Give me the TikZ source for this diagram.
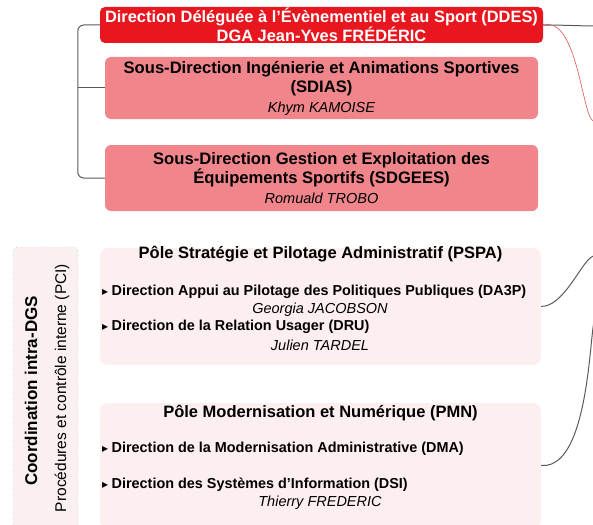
\documentclass[tikz,border=0pt]{standalone}
\usepackage{fontspec}
\setmainfont{Liberation Sans}
\newfontfamily\symfont{DejaVu Sans}
\definecolor{ddesred}{HTML}{E8171F}
\definecolor{sdpink}{HTML}{F0868B}
\definecolor{polepink}{HTML}{FDEEF0}
\definecolor{pcipink}{HTML}{FBF0F1}
\definecolor{linegrey}{HTML}{5A5A5A}
\definecolor{curvered}{HTML}{E06666}
\newcommand{\tribullet}{{\symfont\fontsize{12}{12}\selectfont ▸}\hspace{3.5pt}}
\begin{document}
\begin{tikzpicture}[x=1pt,y=-1pt,
    every node/.style={inner sep=0pt},
    topbox/.style={fill=ddesred, rounded corners=5pt, minimum width=443pt,
      minimum height=36pt, text=white, align=center,
      font=\bfseries\fontsize{16.4}{19}\selectfont},
    sdbox/.style={fill=sdpink, rounded corners=6pt, minimum width=433pt,
      align=center, font=\bfseries\fontsize{16.6}{19.5}\selectfont},
    polebox/.style={fill=polepink, rounded corners=8pt, minimum width=441pt},
    polehead/.style={font=\bfseries\fontsize{16.5}{19}\selectfont},
    item/.style={anchor=west, font=\bfseries\fontsize{14.4}{17}\selectfont},
    person/.style={font=\itshape\fontsize{14.5}{17}\selectfont},
    conn/.style={draw=linegrey, line width=1pt},
    redline/.style={draw=curvered, line width=0.7pt}]
  \useasboundingbox (0,0) rectangle (593,524);
  \clip (0,0) rectangle (593,524);

  % direction and sous-directions
  \node[topbox] (ddes) at (321.5,25)
    {Direction Déléguée à l'Évènementiel et au Sport (DDES)\\DGA Jean-Yves FRÉDÉRIC};
  \node[sdbox, minimum height=62pt] (sdias) at (321.5,88)
    {Sous-Direction Ingénierie et Animations Sportives\\(SDIAS)\\
     {\itshape\mdseries\fontsize{14.5}{17}\selectfont Khym KAMOISE}};
  \node[sdbox, minimum height=66pt] (sdgees) at (321.5,178)
    {Sous-Direction Gestion et Exploitation des\\Équipements Sportifs (SDGEES)\\
     {\itshape\mdseries\fontsize{14.5}{17}\selectfont Romuald TROBO}};

  % coordination
  \node[fill=pcipink, draw=gray, dotted, rounded corners=6pt,
    minimum width=65pt, minimum height=293pt] (pci) at (45.5,393.5) {};
  \node[rotate=90, font=\bfseries\fontsize{17}{20}\selectfont] (coord) at (31,391)
    {Coordination intra-DGS};
  \node[rotate=90, font=\fontsize{15.5}{18}\selectfont] (proc) at (62,388)
    {Procédures et contrôle interne (PCI)};

  % poles
  \node[polebox, minimum height=117pt] (pspa) at (320.5,306.5) {};
  \node[polehead] (pspahead) at (320.5,254)
    {Pôle Stratégie et Pilotage Administratif (PSPA)};
  \node[item] (da3p) at (102,292)
    {\tribullet Direction Appui au Pilotage des Politiques Publiques (DA3P)};
  \node[person] (jacobson) at (320,310) {Georgia JACOBSON};
  \node[item] (dru) at (102,327)
    {\tribullet Direction de la Relation Usager (DRU)};
  \node[person] (tardel) at (320,345) {Julien TARDEL};

  \node[polebox, minimum height=125pt] (pmn) at (320.5,465.5) {};
  \node[polehead] (pmnhead) at (320.5,413)
    {Pôle Modernisation et Numérique (PMN)};
  \node[item] (dma) at (102,449)
    {\tribullet Direction de la Modernisation Administrative (DMA)};
  \node[item] (dsi) at (102,485)
    {\tribullet Direction des Systèmes d'Information (DSI)};
  \node[person] (frederic) at (320,503) {Thierry FREDERIC};

  % free ends beyond the right edge
  \coordinate (outtop) at (600,26);
  \coordinate (outred) at (600,115);
  \coordinate (outpspa) at (600,262);
  \coordinate (outpmn) at (598,330);

  \begin{scope}[rounded corners=6pt]
    \draw[conn] (ddes.west) -- ++(-22,0) |- (sdgees.west);
    \draw[conn] (sdias.west) -- ++(-27,0);
  \end{scope}
  \draw[conn] (ddes.east) to[out=0,in=180] (outtop);
  \draw[redline] (ddes.east) to[out=15,in=-115] (outred);
  \draw[conn] (pspa.east) to[out=0,in=110] (outpspa);
  \draw[conn] (pmn.east) to[out=-5,in=100] (outpmn);
\end{tikzpicture}
\end{document}
